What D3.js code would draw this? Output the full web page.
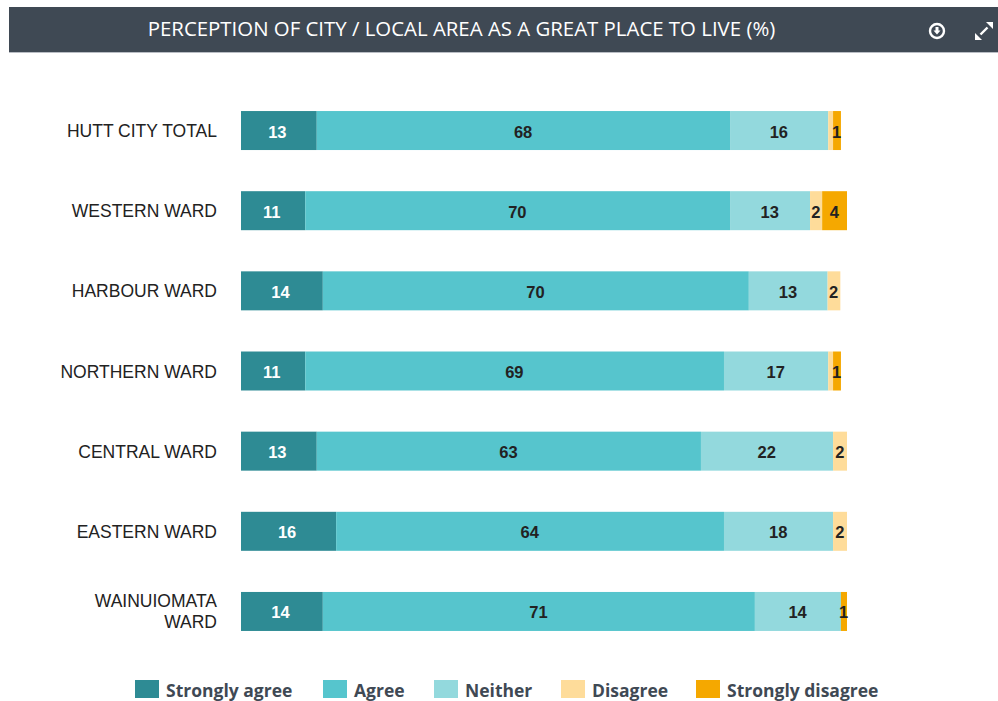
<!DOCTYPE html>
<html>
<head>
<meta charset="utf-8">
<title>Perception of city</title>
<script src="https://cdn.jsdelivr.net/npm/d3@7/dist/d3.min.js"></script>
<style>
html, body { margin: 0; padding: 0; background: #fff; }
svg { display: block; }
</style>
</head>
<body>
<div id="chart"></div>
<script>
var chartTitle = "PERCEPTION OF CITY / LOCAL AREA AS A GREAT PLACE TO LIVE (%)";
var categories = ["HUTT CITY TOTAL", "WESTERN WARD", "HARBOUR WARD", "NORTHERN WARD", "CENTRAL WARD", "EASTERN WARD", "WAINUIOMATA WARD"];
var seriesNames = ["Strongly agree", "Agree", "Neither", "Disagree", "Strongly disagree"];
var colors = ["#2e8b94", "#56c5cd", "#93d9dd", "#fedc9a", "#f5a800"];

// labels on the chart are these rounded
var stronglyAgree = [12.5, 10.6, 13.5, 10.6, 12.5, 15.7, 13.5];
var agree = [68.2, 70.1, 70.3, 69.1, 63.4, 64, 71.3];
var neither = [16.2, 13.2, 13, 17.2, 21.8, 18, 14.2];
var disagree = [0.8, 2, 2.1, 0.8, 2.3, 2.3, 0];
var stronglyDisagree = [1.3, 4.1, 0, 1.3, 0, 0, 1];

var width = 998, height = 701;

var rows = categories.map(function(c, i) {
	return {
		category: c,
		"Strongly agree": stronglyAgree[i],
		"Agree": agree[i],
		"Neither": neither[i],
		"Disagree": disagree[i],
		"Strongly disagree": stronglyDisagree[i]
	};
});

var svg = d3.select("#chart").append("svg")
	.attr("width", width)
	.attr("height", height);

// header bar
svg.append("rect")
	.attr("x", 9).attr("y", 7)
	.attr("width", 989).attr("height", 45)
	.attr("fill", "#3f4954");
svg.append("rect")
	.attr("x", 9).attr("y", 52)
	.attr("width", 989).attr("height", 1)
	.attr("fill", "#b9bdc4");
svg.append("text")
	.attr("x", 461.5).attr("y", 36)
	.attr("text-anchor", "middle")
	.style("font-family", "'Open Sans'")
	.style("font-size", "20.4px")
	.style("fill", "#fff")
	.text(chartTitle);

// download icon
var dl = svg.append("g").attr("transform", "translate(937,31)");
dl.append("circle").attr("r", 7).attr("fill", "none").attr("stroke", "#fff").attr("stroke-width", 2.4);
dl.append("path").attr("d", "M-1.5,-4H1.5V-0.5H3.5L0,3.5L-3.5,-0.5H-1.5Z").attr("fill", "#fff");

// expand icon
var ex = svg.append("g").attr("transform", "translate(984,31)");
ex.append("path").attr("d", "M-3.5,3.5L3.5,-3.5").attr("stroke", "#fff").attr("stroke-width", 2.4);
ex.append("path").attr("d", "M2,-9H9V-2Z").attr("fill", "#fff");
ex.append("path").attr("d", "M-9,2V9H-2Z").attr("fill", "#fff");

var x = d3.scaleLinear().domain([0, 100]).range([241, 847]);
var y = d3.scaleBand().domain(categories).range([91, 651]).paddingInner(0.5135).paddingOuter(0.25);

var stacked = d3.stack().keys(seriesNames)(rows);

var layer = svg.selectAll(".layer")
	.data(stacked)
	.enter()
	.append("g")
	.attr("class", "layer")
	.attr("fill", function(d, i) {
		return colors[i];
	});

layer.selectAll("rect")
	.data(function(d) {
		return d;
	})
	.enter()
	.append("rect")
	.attr("x", function(d) {
		return x(d[0]);
	})
	.attr("y", function(d) {
		return y(d.data.category);
	})
	.attr("width", function(d) {
		return x(d[1]) - x(d[0]);
	})
	.attr("height", y.bandwidth());

// value labels, anything under 1 has no label in the original
layer.each(function(s, i) {
	d3.select(this).selectAll("text")
		.data(s.filter(function(d) {
			return d[1] - d[0] >= 1;
		}))
		.enter()
		.append("text")
		.attr("x", function(d) {
			return (x(d[0]) + x(d[1])) / 2 + (i === 0 ? -1.5 : -0.3);
		})
		.attr("y", function(d) {
			return y(d.data.category) + y.bandwidth() / 2 + 7;
		})
		.attr("text-anchor", "middle")
		.style("font-family", "'Liberation Sans'")
		.style("font-weight", "bold")
		.style("font-size", "16.5px")
		.style("fill", i === 0 ? "#fff" : "#222")
		.text(function(d) {
			return Math.round(d[1] - d[0]);
		});
});

// category labels, long ones wrap on two lines
var labels = svg.selectAll(".cat")
	.data(categories)
	.enter()
	.append("text")
	.attr("class", "cat")
	.attr("text-anchor", "end")
	.style("font-family", "'Liberation Sans'")
	.style("font-size", "17.5px")
	.style("fill", "#222");

labels.each(function(c) {
	var t = d3.select(this);
	var parts = c.length > 15 ? c.split(" ") : [c];
	var mid = y(c) + y.bandwidth() / 2;
	parts.forEach(function(p, k) {
		t.append("tspan")
			.attr("x", 217)
			.attr("y", mid + 6.5 + (k - (parts.length - 1) / 2) * 21)
			.text(p);
	});
});

// legend
var legendX = [135, 323, 434, 561, 696];
var legend = svg.selectAll(".legend")
	.data(seriesNames)
	.enter()
	.append("g")
	.attr("class", "legend")
	.attr("transform", function(d, i) {
		return "translate(" + legendX[i] + ",680)";
	});

legend.append("rect")
	.attr("width", 24)
	.attr("height", 18)
	.attr("fill", function(d, i) {
		return colors[i];
	});

legend.append("text")
	.attr("x", 31)
	.attr("y", 17)
	.style("font-family", "'Open Sans'")
	.style("font-weight", "bold")
	.style("font-size", "17.5px")
	.style("fill", "#3f4954")
	.text(function(d) {
		return d;
	});
</script>
</body>
</html>
